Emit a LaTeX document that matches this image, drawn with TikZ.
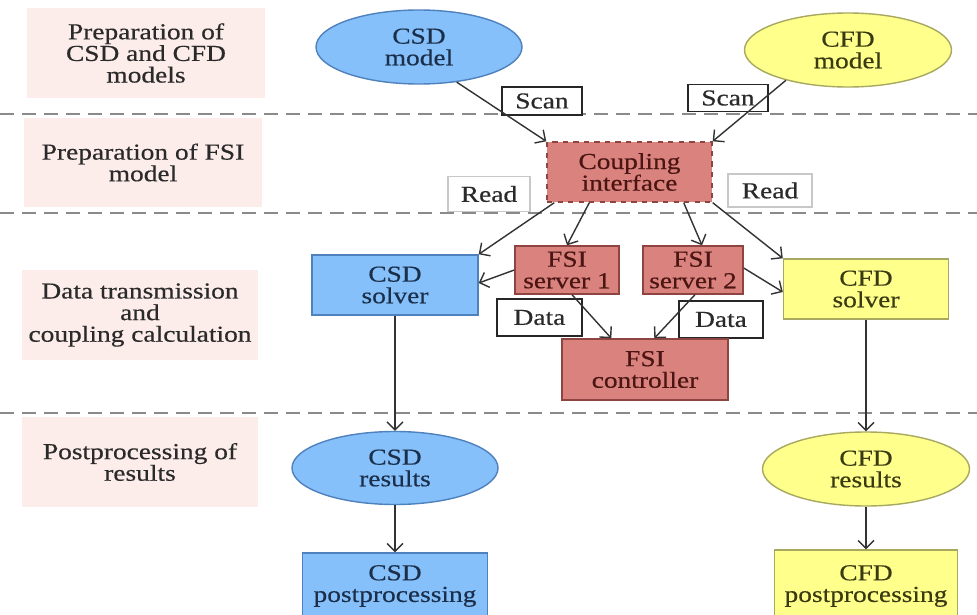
\documentclass[tikz,border=0pt]{standalone}
\usepackage{fontspec}
\setmainfont{Liberation Serif}[FakeStretch=1.2,FakeBold=0.4]
\usetikzlibrary{shapes.geometric,arrows.meta}
\newlength\pxl \setlength\pxl{0.02cm}
\definecolor{pinkbg}{HTML}{FCECEA}
\definecolor{bluefill}{HTML}{85C0FA}
\definecolor{blueline}{HTML}{4F81BD}
\definecolor{bluetext}{HTML}{1B2F4A}
\definecolor{yelfill}{HTML}{FFFF8C}
\definecolor{yelline}{HTML}{A8A860}
\definecolor{yeltext}{HTML}{3A3A12}
\definecolor{redfill}{HTML}{D9827E}
\definecolor{redline}{HTML}{8E4541}
\definecolor{redtext}{HTML}{4A1512}
\definecolor{arrowc}{HTML}{333333}
\definecolor{dashc}{HTML}{8A8A8A}
\definecolor{labtext}{HTML}{2A2A2A}
\definecolor{readline}{HTML}{C8C8C8}
\begin{document}
\begin{tikzpicture}[x=0.02cm,y=-0.02cm,
  font=\fontsize{13}{12.3}\selectfont,
  lbl/.style={fill=pinkbg, text=labtext, align=center, inner sep=0},
  bluebox/.style={draw=blueline, fill=bluefill, text=bluetext, line width=0.8pt, align=center, inner sep=0},
  yelbox/.style={draw=yelline, fill=yelfill, text=yeltext, line width=0.8pt, align=center, inner sep=0},
  redbox/.style={draw=redline, fill=redfill, text=redtext, line width=0.8pt, align=center, inner sep=0},
  tagbox/.style={draw=black!85, fill=white, text=labtext, line width=0.8pt, inner sep=0},
  readbox/.style={draw=readline, fill=white, text=labtext, line width=0.8pt, inner sep=0},
  sepline/.style={draw=dashc, line width=1.2pt, dash pattern=on 14\pxl off 8\pxl},
  arr/.style={draw=arrowc, line width=0.8pt, -{Straight Barb[length=4.5pt,width=9pt]}}
]
\clip (0,0) rectangle (977,615);
\useasboundingbox (0,0) rectangle (977,615);
\fill[white] (0,0) rectangle (977,615);

% stage labels
\node[lbl, minimum width=238\pxl, minimum height=90\pxl] (l1) at (146,53) {Preparation of\\CSD and CFD\\models};
\node[lbl, minimum width=238\pxl, minimum height=89\pxl] (l2) at (143,162.5) {Preparation of FSI\\model};
\node[lbl, minimum width=236\pxl, minimum height=90\pxl] (l3) at (140,315) {Data transmission\\and\\coupling calculation};
\node[lbl, minimum width=236\pxl, minimum height=90\pxl] (l4) at (140,462) {Postprocessing of\\results};

% separators
\draw[sepline] (0,114) -- (977,114);
\draw[sepline] (0,213) -- (977,213);
\draw[sepline] (0,413) -- (977,413);

% models
\node[bluebox, ellipse, minimum width=206\pxl, minimum height=74\pxl] (csdm) at (419,47) {CSD\\model};
\node[yelbox, ellipse, minimum width=207\pxl, minimum height=74\pxl] (cfdm) at (848,50) {CFD\\model};

% labels on connectors
\node[tagbox, minimum width=80\pxl, minimum height=28\pxl] (scan1) at (542,101) {Scan};
\node[tagbox, minimum width=80\pxl, minimum height=27\pxl] (scan2) at (728,98) {Scan};
\node[readbox, minimum width=82\pxl, minimum height=35\pxl] (read1) at (489,194) {Read};
\node[readbox, minimum width=84\pxl, minimum height=33\pxl] (read2) at (770,190.5) {Read};
\node[tagbox, minimum width=85\pxl, minimum height=37\pxl] (data1) at (539.5,317.5) {Data};
\node[tagbox, minimum width=84\pxl, minimum height=37\pxl] (data2) at (721,319.5) {Data};

% coupling
\node[redbox, dashed, minimum width=165\pxl, minimum height=60\pxl] (ci) at (629.5,172) {Coupling\\interface};

% solvers and servers
\node[bluebox, minimum width=166\pxl, minimum height=60\pxl] (csds) at (395,285) {CSD\\solver};
\node[redbox, minimum width=104\pxl, minimum height=48\pxl] (fsi1) at (567,270) {FSI\\server 1};
\node[redbox, minimum width=100\pxl, minimum height=48\pxl] (fsi2) at (693,270) {FSI\\server 2};
\node[yelbox, minimum width=165\pxl, minimum height=60\pxl] (cfds) at (866,289) {CFD\\solver};
\node[redbox, minimum width=166\pxl, minimum height=61\pxl] (ctrl) at (645,369.5) {FSI\\controller};

% results
\node[bluebox, ellipse, minimum width=206\pxl, minimum height=73\pxl] (csdr) at (395,468) {CSD\\results};
\node[yelbox, ellipse, minimum width=207\pxl, minimum height=74\pxl] (cfdr) at (866,469) {CFD\\results};
\node[bluebox, minimum width=185\pxl, minimum height=66\pxl] (csdp) at (395,586) {CSD\\postprocessing};
\node[yelbox, minimum width=183\pxl, minimum height=72\pxl] (cfdp) at (866,586) {CFD\\postprocessing};

% connectors
\draw[arr] (csdm.-43) -- (ci.north west);
\draw[arr] (cfdm.206) -- (ci.north east);
\draw[arr] ([xshift=8\pxl]ci.south west) -- (csds.north east);
\draw[arr] ([xshift=43\pxl]ci.south west) -- (fsi1.north);
\draw[arr] ([xshift=-29\pxl]ci.south east) -- ([xshift=9\pxl]fsi2.north);
\draw[arr] (ci.south east) -- (cfds.north west);
\draw[arr] (fsi1.west) -- ([yshift=2\pxl]csds.east);
\draw[arr] ([yshift=2\pxl]fsi2.east) -- ([yshift=-3\pxl]cfds.west);
\draw[arr] ([xshift=5\pxl]fsi1.south) -- ([xshift=50\pxl]ctrl.north west);
\draw[arr] ([xshift=2\pxl]fsi2.south) -- ([xshift=93\pxl]ctrl.north west);
\draw[arr] (csds.south) -- (csdr.north);
\draw[arr] (cfds.south) -- (cfdr.north);
\draw[arr] (csdr.south) -- (csdp.north);
\draw[arr] (cfdr.south) -- (cfdp.north);
\end{tikzpicture}
\end{document}
